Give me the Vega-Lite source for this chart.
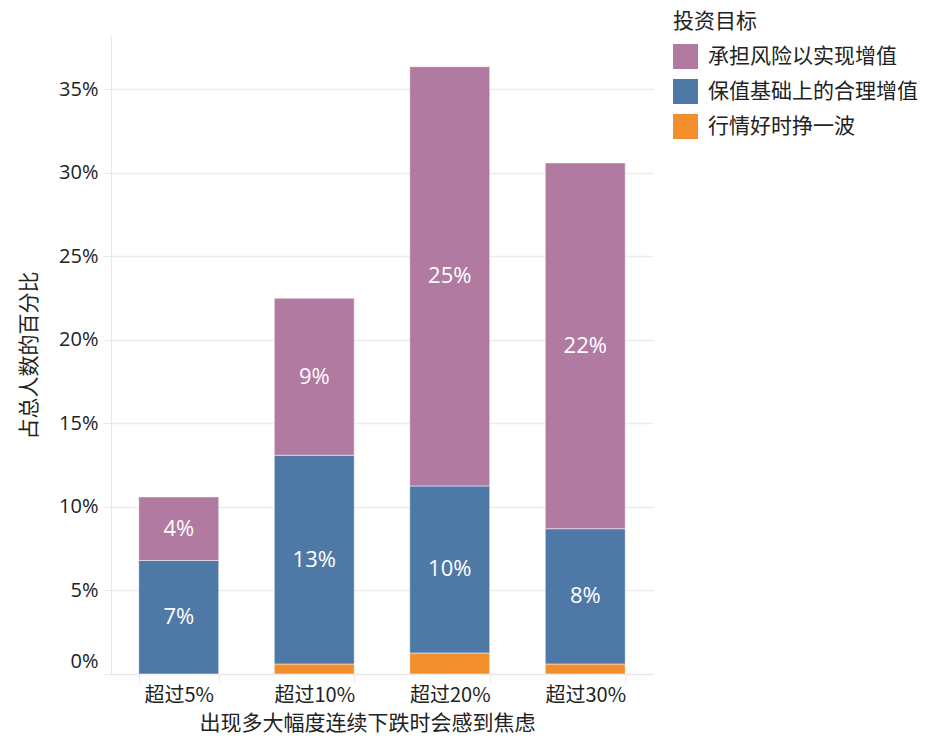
{
  "$schema": "https://vega.github.io/schema/vega-lite/v6.json",
  "autosize": "none",
  "width": 542,
  "height": 638,
  "padding": {"left": 111, "top": 36, "right": 279, "bottom": 72},
  "background": "white",
  "config": {
    "font": "Noto Sans CJK SC",
    "view": {"stroke": null}
  },
  "data": {
    "values": [
      {"level": "超过5%", "goal": "行情好时挣一波", "share": 0.0},
      {"level": "超过5%", "goal": "保值基础上的合理增值", "share": 0.068},
      {"level": "超过5%", "goal": "承担风险以实现增值", "share": 0.038},
      {"level": "超过10%", "goal": "行情好时挣一波", "share": 0.006},
      {"level": "超过10%", "goal": "保值基础上的合理增值", "share": 0.125},
      {"level": "超过10%", "goal": "承担风险以实现增值", "share": 0.094},
      {"level": "超过20%", "goal": "行情好时挣一波", "share": 0.0126},
      {"level": "超过20%", "goal": "保值基础上的合理增值", "share": 0.100},
      {"level": "超过20%", "goal": "承担风险以实现增值", "share": 0.251},
      {"level": "超过30%", "goal": "行情好时挣一波", "share": 0.006},
      {"level": "超过30%", "goal": "保值基础上的合理增值", "share": 0.081},
      {"level": "超过30%", "goal": "承担风险以实现增值", "share": 0.219}
    ]
  },
  "transform": [
    {"calculate": "indexof(['行情好时挣一波','保值基础上的合理增值','承担风险以实现增值'], datum.goal)", "as": "ord"},
    {"stack": "share", "groupby": ["level"], "sort": [{"field": "ord", "order": "ascending"}], "as": ["y0", "y1"]},
    {"calculate": "(datum.y0 + datum.y1) / 2", "as": "ymid"}
  ],
  "encoding": {
    "x": {
      "field": "level",
      "type": "nominal",
      "sort": ["超过5%", "超过10%", "超过20%", "超过30%"],
      "scale": {"paddingInner": 0.41, "paddingOuter": 0.205},
      "axis": {
        "title": "出现多大幅度连续下跌时会感到焦虑",
        "titleFontSize": 21,
        "titleFontWeight": "normal",
        "titleColor": "#222",
        "titleX": 256,
        "titleY": 49,
        "titleBaseline": "middle",
        "labelAngle": 0,
        "labelFontSize": 20,
        "labelColor": "#222",
        "labelPadding": 3,
        "domainColor": "#e6e6e6",
        "tickColor": "#e6e6e6",
        "tickBand": "extent",
        "tickSize": 8,
        "grid": false
      }
    }
  },
  "layer": [
    {
      "mark": {"type": "bar", "stroke": "white", "strokeWidth": 0.5},
      "encoding": {
        "y": {
          "field": "y0",
          "type": "quantitative",
          "scale": {"domain": [0, 0.382], "nice": false, "zero": true},
          "axis": {
            "title": "占总人数的百分比",
            "titleFontSize": 21,
            "titleFontWeight": "normal",
            "titleColor": "#222",
            "titleX": -82,
            "titleY": 319,
            "titleBaseline": "middle",
            "values": [0, 0.05, 0.1, 0.15, 0.2, 0.25, 0.3, 0.35],
            "format": ".0%",
            "labelFontSize": 20,
            "labelColor": "#222",
            "labelFont": "Open Sans",
            "labelPadding": 5,
            "labelOffset": {"condition": {"test": "datum.value === 0", "value": -13}, "value": 0},
            "tickColor": "#e6e6e6",
            "tickSize": 8,
            "domainColor": "#e6e6e6",
            "gridColor": "#ececec",
            "gridWidth": 1.5
          }
        },
        "y2": {"field": "y1"},
        "color": {
          "field": "goal",
          "type": "nominal",
          "scale": {
            "domain": ["承担风险以实现增值", "保值基础上的合理增值", "行情好时挣一波"],
            "range": ["#b07aa1", "#4e79a7", "#f28e2b"]
          },
          "legend": {
            "title": "投资目标",
            "orient": "none",
            "legendX": 562,
            "legendY": -25,
            "titleFontSize": 21,
            "titleFontWeight": "normal",
            "titleColor": "#222",
            "titlePadding": 12,
            "labelFontSize": 21,
            "labelColor": "#222",
            "labelOffset": 10,
            "labelLimit": 300,
            "symbolType": "square",
            "symbolSize": 625,
            "symbolStrokeWidth": 0,
            "rowPadding": 10
          }
        }
      }
    },
    {
      "transform": [{"filter": "datum.share >= 0.02"}],
      "mark": {"type": "text", "color": "white", "fontSize": 22, "font": "Open Sans", "baseline": "middle", "align": "center"},
      "encoding": {
        "y": {"field": "ymid", "type": "quantitative"},
        "text": {"field": "share", "type": "quantitative", "format": ".0%"}
      }
    }
  ]
}
